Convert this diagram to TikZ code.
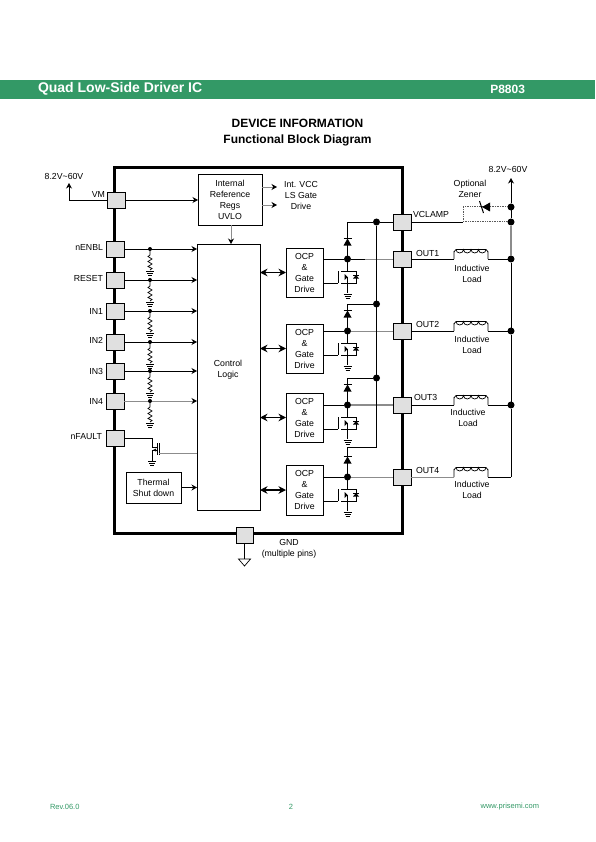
\documentclass[tikz,border=0pt]{standalone}
\usepackage{fontspec}
\setmainfont{Liberation Sans}
\usepackage{xcolor}
\usetikzlibrary{positioning, arrows.meta, calc}
\definecolor{bargreen}{HTML}{339966}
\definecolor{pingray}{HTML}{E0E0E0}
\definecolor{wiregray}{HTML}{8C8C8C}
\begin{document}
\begin{tikzpicture}[
  x=1pt, y=-1pt,
  every node/.style={font=\fontsize{8.75}{11}\selectfont, align=center, inner sep=0pt, outer sep=0pt},
  chipbox/.style={rectangle, draw=black, line width=3pt, anchor=north west},
  pin/.style={rectangle, draw=black, fill=pingray, line width=0.7pt, anchor=north west},
  block/.style={rectangle, draw=black, fill=white, line width=0.7pt, anchor=north west},
  wire/.style={line width=0.8pt, color=black},
  graywire/.style={line width=0.9pt, color=wiregray},
  arr/.style={-{Stealth[length=5.5pt,width=6pt]}, line width=0.8pt, color=black},
  grayarr/.style={-{Stealth[length=5.5pt,width=6pt,color=black]}, line width=0.9pt, color=wiregray},
  biarr/.style={{Stealth[length=7.5pt,width=7.5pt]}-{Stealth[length=7.5pt,width=7.5pt]}, line width=1.6pt},
  dot/.style={circle, fill=black, minimum size=7pt},
  smalldot/.style={circle, fill=black, minimum size=4pt},
  zenerline/.style={line width=1pt, color=black!65, dash pattern=on 1pt off 0.7pt},
  ground/.pic={
    \draw[line width=0.7pt] (-4,0) -- (4,0) (-3,2) -- (3,2) (-2,4) -- (2,4);
  },
  resist/.pic={
    \draw[line width=0.7pt] (0,0) -- (0,6) -- (-2,7.5) -- (2,10) -- (-2,12.5) -- (2,15)
      -- (-2,17.5) -- (2,19.5) -- (0,21);
    \pic at (0,22) {ground};
  },
  diode/.pic={
    \fill (-4,3.5) -- (4,3.5) -- (0,-3.5) -- cycle;
    \draw[line width=0.8pt] (-4,-3.5) -- (4,-3.5);
  },
  lowfet/.pic={
    \coordinate (-gate) at (-9.5,24);
    \draw[line width=0.7pt] (0,0) -- (0,12) (-6.5,12) -- (8.5,12) -- (8.5,24) -- (-6.5,24)
      (-9.5,12) -- (-9.5,24) (0,24) -- (0,34);
    \fill (0,18) -- (-3,15) -- (-3,21) -- cycle;
    \draw[line width=0.7pt] (0,18) -- (0,24);
    \fill (5.5,19.5) -- (11.5,19.5) -- (8.5,16) -- cycle;
    \draw[line width=0.7pt] (5.5,16) -- (11.5,16);
    \pic at (0,35) {ground};
  },
  coil/.pic={
    \draw[line width=0.7pt] (0,0) -- (0,-7) to[out=-90,in=180] (2,-9.5) -- (32,-9.5) to[out=0,in=-90] (34,-7) -- (34,0);
    \draw[line width=0.7pt] (2,-9.5) arc[start angle=180,end angle=0,x radius=3.75,y radius=3.5]
      arc[start angle=180,end angle=0,x radius=3.75,y radius=3.5]
      arc[start angle=180,end angle=0,x radius=3.75,y radius=3.5]
      arc[start angle=180,end angle=0,x radius=3.75,y radius=3.5];
  },
]
\useasboundingbox (0,0) rectangle (595,842);

% Header
\fill[bargreen] (0,80) rectangle (595,99);
\node[font=\fontsize{14}{16}\selectfont\bfseries, text=white, anchor=west] (headl) at (38,89) {Quad Low-Side Driver IC};
\node[font=\fontsize{12}{14}\selectfont\bfseries, text=white, anchor=east] (headr) at (525,89) {P8803};
\node[font=\fontsize{12}{15.5}\selectfont\bfseries] (title) at (297.5,132.5) {DEVICE INFORMATION\\Functional Block Diagram};

% Chip outline
\node[chipbox, minimum width=288pt, minimum height=365pt] (chip) at (114.5,168) {};

% Pins left
\node[pin, minimum width=18pt, minimum height=16pt] (vm) at (107,192) {};
\node[pin, minimum width=18pt, minimum height=16pt] (nenbl) at (106,241) {};
\node[pin, minimum width=18pt, minimum height=16pt] (reset) at (106,272) {};
\node[pin, minimum width=18pt, minimum height=16pt] (inone) at (106,303) {};
\node[pin, minimum width=18pt, minimum height=16pt] (intwo) at (106,334) {};
\node[pin, minimum width=18pt, minimum height=16pt] (inthree) at (106,363) {};
\node[pin, minimum width=18pt, minimum height=16pt] (infour) at (106,393) {};
\node[pin, minimum width=18pt, minimum height=16pt] (nfault) at (106,430) {};
\node[pin, minimum width=17pt, minimum height=16pt] (gnd) at (236,527) {};

% Pins right
\node[pin, minimum width=18pt, minimum height=16pt] (vclamp) at (393,214) {};
\node[pin, minimum width=18pt, minimum height=16pt] (outone) at (393,251) {};
\node[pin, minimum width=18pt, minimum height=16pt] (outtwo) at (393,323) {};
\node[pin, minimum width=18pt, minimum height=16pt] (outthree) at (393,397) {};
\node[pin, minimum width=18pt, minimum height=16pt] (outfour) at (393,469) {};

% Pin labels
\node[left=2pt of vm, yshift=6pt] (vmlab) {VM};
\node[left=3pt of nenbl, yshift=2pt] (nenbllab) {nENBL};
\node[left=3pt of reset, yshift=2pt] (resetlab) {RESET};
\node[left=3pt of inone] (inonelab) {IN1};
\node[left=3pt of intwo, yshift=2pt] (intwolab) {IN2};
\node[left=3pt of inthree] (inthreelab) {IN3};
\node[left=3pt of infour] (infourlab) {IN4};
\node[left=4pt of nfault, yshift=1pt] (nfaultlab) {nFAULT};
\node (vclamplab) at (431,214.5) {VCLAMP};
\node[anchor=west] (outonelab) at (416,253) {OUT1};
\node[anchor=west] (outtwolab) at (416,324) {OUT2};
\node[anchor=west] (outthreelab) at (414,397) {OUT3};
\node[anchor=west] (outfourlab) at (416,470) {OUT4};
\node (vleft) at (64,176) {8.2V\textasciitilde60V};
\node (vright) at (508,169) {8.2V\textasciitilde60V};
\node (zenerlab) at (470,188.5) {Optional\\Zener};
\node (gndlab) at (289,549) {GND\\(multiple pins)};

% Blocks
\node[block, minimum width=64pt, minimum height=51pt] (intref) at (198,174) {Internal\\Reference\\Regs\\UVLO};
\node[block, minimum width=63pt, minimum height=266pt] (ctrl) at (197,244) {};
\node (ctrllab) at (228,369.5) {Control\\Logic};
\node[block, minimum width=55pt, minimum height=31pt] (thermal) at (126,472) {Thermal\\Shut down};
\node[block, minimum width=37pt, minimum height=49pt] (ocpone) at (286,248) {OCP\\\&\\Gate\\Drive};
\node[block, minimum width=37pt, minimum height=49pt] (ocptwo) at (286,324) {OCP\\\&\\Gate\\Drive};
\node[block, minimum width=37pt, minimum height=49pt] (ocpthree) at (286,393) {OCP\\\&\\Gate\\Drive};
\node[block, minimum width=37pt, minimum height=50pt] (ocpfour) at (286,465) {OCP\\\&\\Gate\\Drive};
\node (intvcc) at (301,195) {Int. VCC\\LS Gate\\Drive};

% VM and internal supply
\coordinate (vmtip) at (69,183);
\draw[arr] (vm.west) -| (vmtip);
\draw[arr] (vm.east) -- (intref.west |- vm.east);
\draw[grayarr] ($(intref.south)+(1,0)$) -- ($(intref.south |- ctrl.north)+(1,0)$);
\coordinate (vccin) at (277,187);
\coordinate (gatein) at (277,205);
\draw[grayarr] (intref.east |- vccin) -- (vccin);
\draw[grayarr] (intref.east |- gatein) -- (gatein);

% Inputs
\foreach \p/\n in {nenbl/a, reset/b, inone/c, intwo/d, inthree/e}{
  \draw[arr] (\p.east) -- (ctrl.west |- \p.east);
  \node[smalldot] (dot\n) at (150,0 |- \p.east) {};
  \pic at (dot\n) {resist};
}
\draw[grayarr] (infour.east) -- (ctrl.west |- infour.east);
\node[smalldot] (dotf) at (150,0 |- infour.east) {};
\pic at (dotf) {resist};

% nFAULT
\coordinate (fdrain) at (152,447);
\coordinate (fsource) at (152,450);
\coordinate (fgate) at (159,453);
\draw[wire] (nfault.east) -| (fdrain) -- ++(5,0);
\draw[wire] (fsource) -- ++(5,0) ;
\draw[wire] (fsource) -- ++(0,11);
\fill (153,450) -- (156,448.5) -- (156,451.5) -- cycle;
\draw[line width=0.9pt] (157,443) -- (157,455) (159,443) -- (159,455);
\pic at (152,461) {ground};
\draw[graywire] (ctrl.west |- fgate) -- (fgate);
\draw[arr] (thermal.east) -- (ctrl.west |- thermal.east);

% Control to OCP
\draw[biarr] (ctrl.east |- ocpone.west) -- (ocpone.west);
\draw[biarr] (ctrl.east |- ocptwo.west) -- (ocptwo.west);
\draw[biarr] (ctrl.east |- ocpthree.west) -- (ocpthree.west);
\draw[biarr] (ctrl.east |- ocpfour.west) -- (ocpfour.west);

% Driver outputs
\node[dot] (swone) at (347.5,259) {};
\node[dot] (swtwo) at (347.5,331) {};
\node[dot] (swthree) at (347.5,405) {};
\node[dot] (swfour) at (347.5,477) {};
\draw[wire] (ocpone.east |- swone) -- (swone) -- (365,259);
\draw[graywire] (365,259) -- (outone.west);
\draw[wire] (ocptwo.east |- swtwo) -- (swtwo);
\draw[graywire] (swtwo) -- (outtwo.west);
\draw[wire] (ocpthree.east |- swthree) -- (swthree);
\draw[graywire, line width=1.3pt] (swthree) -- (outthree.west);
\draw[wire] (ocpfour.east |- swfour) -- (swfour);
\draw[graywire] (swfour) -- (outfour.west);

% Low side switches
\pic (fone) at (swone) {lowfet};
\pic (ftwo) at (swtwo) {lowfet};
\pic (fthree) at (swthree) {lowfet};
\pic (ffour) at (swfour) {lowfet};
\draw[wire] (ocpone.east |- fone-gate) -- (fone-gate);
\draw[wire] (ocptwo.east |- ftwo-gate) -- (ftwo-gate);
\draw[wire] (ocpthree.east |- fthree-gate) -- (fthree-gate);
\draw[wire] (ocpfour.east |- ffour-gate) -- (ffour-gate);

% Clamp bus
\node[dot] (clampa) at (376.5,222) {};
\node[dot] (clampb) at (376.5,304) {};
\node[dot] (clampc) at (376.5,378) {};
\coordinate (clampd) at (376.5,447);
\draw[wire] (vclamp.west) -- (clampa) -- (clampd) -- (clampd -| swfour) -- (swfour);
\draw[wire] (clampa) -- (clampa -| swone) -- (swone);
\draw[wire] (clampb) -- (clampb -| swtwo) -- (swtwo);
\draw[wire] (clampc) -- (clampc -| swthree) -- (swthree);
\pic at (347.5,242) {diode};
\pic at (347.5,314) {diode};
\pic at (347.5,388) {diode};
\pic at (347.5,460) {diode};

% Loads
\node[dot] (busz) at (511,207) {};
\node[dot] (busa) at (511,222) {};
\node[dot] (busb) at (511,259) {};
\node[dot] (busc) at (511,331) {};
\node[dot] (busd) at (511,405) {};
\coordinate (buse) at (511,477);
\coordinate (bustip) at (511,178);
\coordinate (zjoin) at (463,222);
\coordinate (ztip) at (483,207);
\draw[arr] (busz) -- (bustip);
\draw[wire] (busz) -- (busa);
\draw[graywire, line width=1.2pt] (busa) -- (busb);
\draw[wire] (busb) -- (busc) -- (busd) -- (buse);
\draw[wire] (vclamp.east) -- (zjoin);
\draw[zenerline] (zjoin) -- (busa);
\draw[zenerline] (zjoin) |- (ztip);
\draw[zenerline] (ztip) -- (busz);
\fill (482,207) -- (490,202.5) -- (490,211.5) -- cycle;
\draw[line width=1pt] (479.5,201) -- (483.5,213);

\pic at (454,259) {coil};
\pic at (454,331) {coil};
\pic at (454,405) {coil};
\pic at (454,477) {coil};
\draw[wire] (outone.east) -- (454,259) (488,259) -- (busb);
\draw[wire] (outtwo.east) -- (454,331) (488,331) -- (busc);
\draw[wire] (outthree.east) -- (454,405) (488,405) -- (busd);
\draw[graywire] (outfour.east) -- (454,477);
\draw[wire] (488,477) -- (buse);
\node (loadone) at (472,273.5) {Inductive\\Load};
\node (loadtwo) at (472,344.5) {Inductive\\Load};
\node (loadthree) at (468,418) {Inductive\\Load};
\node (loadfour) at (472,490) {Inductive\\Load};

% Ground pin
\coordinate (gndtop) at (244.5,559);
\draw[wire] (gnd.south) -- (gndtop);
\draw[line width=0.7pt, fill=white] (238.5,559) -- (250.5,559) -- (244.5,566) -- cycle;

% Footer
\node[font=\fontsize{7.5}{8}\selectfont, text=bargreen, anchor=west] (rev) at (50,807) {Rev.06.0};
\node[font=\fontsize{7.5}{8}\selectfont, text=bargreen] (page) at (291,807) {2};
\node[font=\fontsize{7.5}{8}\selectfont, text=bargreen, anchor=east] (web) at (539,807) {www.prisemi.com};

\end{tikzpicture}
\end{document}
